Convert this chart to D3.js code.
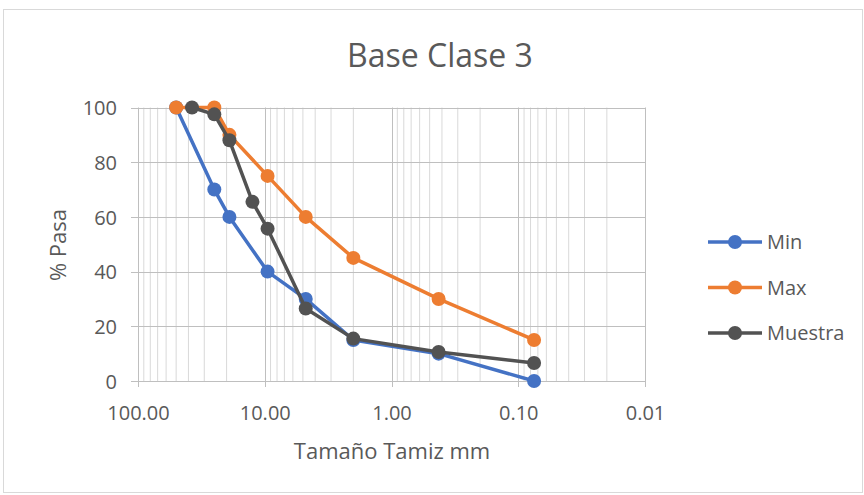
<!DOCTYPE html>
<html>
<head>
<meta charset="utf-8">
<script src="https://cdn.jsdelivr.net/npm/d3@7"></script>
<style>
  html, body { margin: 0; padding: 0; background: #fff; }
  svg { display: block; font-family: "Open Sans", sans-serif; }
</style>
</head>
<body>
<svg id="chart" width="864" height="495"></svg>
<script>
// Sieve sizes (mm) and percent passing for each curve
const sizesLimits = [50, 25, 19, 9.5, 4.75, 2, 0.425, 0.075];
const minValues   = [100, 70, 60, 40, 30, 15, 10, 0];
const maxValues   = [100, 100, 90, 75, 60, 45, 30, 15];
const sizesSample = [37.5, 25, 19, 12.5, 9.5, 4.75, 2, 0.425, 0.075];
const sampleValues = [100, 97.5, 88, 65.5, 55.7, 26.5, 15.5, 10.6, 6.6];
const xTickValues = [100, 10, 1, 0.1, 0.01];
const yTickValues = [0, 20, 40, 60, 80, 100];

const seriesList = [
  { name: "Min", color: "#4472C4", xs: sizesLimits, ys: minValues },
  { name: "Max", color: "#ED7D31", xs: sizesLimits, ys: maxValues },
  { name: "Muestra", color: "#525252", xs: sizesSample, ys: sampleValues }
];

const svg = d3.select("#chart");
const textColor = "#595959";
const markerR = 7;
const lineW = 3.5;

// Outer chart border
svg.append("rect").attr("x", 3.5).attr("y", 9.5).attr("width", 859).attr("height", 483)
  .attr("fill", "#fff").attr("stroke", "#d9d9d9");

const plot = { left: 138, right: 645, top: 107.5, bottom: 381 };

const x = d3.scaleLog().domain([100, 0.01]).range([plot.left, plot.right]);
const y = d3.scaleLinear().domain([0, 100]).range([plot.bottom, plot.top]);

// Minor vertical gridlines on the log axis
const minorTicks = [];
for (let e = -2; e < 2; e++) {
  for (let m = 2; m <= 9; m++) minorTicks.push(m * Math.pow(10, e));
}
svg.append("g").selectAll("line").data(minorTicks).join("line")
  .attr("x1", d => x(d)).attr("x2", d => x(d))
  .attr("y1", plot.top).attr("y2", plot.bottom)
  .attr("stroke", "#d9d9d9").attr("stroke-width", 1);

// Major vertical gridlines with tick marks below the axis
svg.append("g").selectAll("line").data(xTickValues).join("line")
  .attr("x1", d => Math.round(x(d)) + 0.5).attr("x2", d => Math.round(x(d)) + 0.5)
  .attr("y1", plot.top).attr("y2", plot.bottom + 6)
  .attr("stroke", "#bfbfbf").attr("stroke-width", 1);

// Horizontal gridlines with tick marks left of the axis
svg.append("g").selectAll("line").data(yTickValues).join("line")
  .attr("x1", plot.left - 7).attr("x2", plot.right)
  .attr("y1", d => Math.round(y(d)) + 0.5).attr("y2", d => Math.round(y(d)) + 0.5)
  .attr("stroke", "#bfbfbf").attr("stroke-width", 1);

// Axis labels via d3 axes (domain/ticks hidden, only text used)
const xAxis = svg.append("g").attr("transform", `translate(0,${plot.bottom})`)
  .call(d3.axisBottom(x).tickValues(xTickValues).tickFormat(d3.format(".2f")).tickSize(0).tickPadding(0));
const yAxis = svg.append("g").attr("transform", `translate(${plot.left},0)`)
  .call(d3.axisLeft(y).tickValues(yTickValues).tickSize(0).tickPadding(21));
[xAxis, yAxis].forEach(a => {
  a.select(".domain").remove();
  a.selectAll("text").attr("fill", textColor).style("font-size", "20px")
    .style("font-family", "'Open Sans', sans-serif");
});
xAxis.selectAll("text").attr("dy", null).attr("y", 39);
yAxis.selectAll("text").attr("dy", "0.36em");

// Series lines and markers
const line = d3.line().x(d => x(d[0])).y(d => y(d[1]));
seriesList.forEach(s => {
  const pts = s.xs.map((v, i) => [v, s.ys[i]]);
  svg.append("path").datum(pts).attr("d", line)
    .attr("fill", "none").attr("stroke", s.color).attr("stroke-width", lineW)
    .attr("stroke-linejoin", "round").attr("stroke-linecap", "round");
  svg.append("g").selectAll("circle").data(pts).join("circle")
    .attr("cx", d => x(d[0])).attr("cy", d => y(d[1])).attr("r", markerR)
    .attr("fill", s.color);
});

// Title
svg.append("text").attr("x", 440).attr("y", 67).attr("text-anchor", "middle")
  .attr("fill", textColor).style("font-size", "32px").text("Base Clase 3");

// Axis titles
svg.append("text").attr("x", 392).attr("y", 459).attr("text-anchor", "middle")
  .attr("fill", textColor).style("font-size", "22px").text("Tamaño Tamiz mm");
svg.append("text").attr("transform", "translate(66,245) rotate(-90)").attr("text-anchor", "middle")
  .attr("fill", textColor).style("font-size", "22px").text("% Pasa");

// Legend
const legend = svg.append("g");
seriesList.forEach((s, i) => {
  const ly = 242 + i * 45.5;
  legend.append("line").attr("x1", 708).attr("x2", 762).attr("y1", ly).attr("y2", ly)
    .attr("stroke", s.color).attr("stroke-width", lineW);
  legend.append("circle").attr("cx", 735).attr("cy", ly).attr("r", markerR).attr("fill", s.color);
  legend.append("text").attr("x", 767).attr("y", ly).attr("dy", "0.36em")
    .attr("fill", textColor).style("font-size", "20px").text(s.name);
});
</script>
</body>
</html>
